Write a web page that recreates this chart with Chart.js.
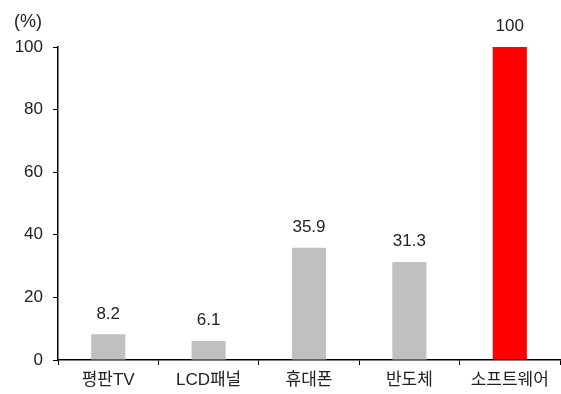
<!DOCTYPE html>
<html><head><meta charset="utf-8">
<script src="https://cdn.jsdelivr.net/npm/chart.js@4"></script>
<style>html,body{margin:0;padding:0;background:#fff}#wrap{width:561px;height:394px}</style>
</head><body><div id="wrap"><canvas id="c" width="561" height="394"></canvas></div>
<script>
const categories = ['평판TV', 'LCD패널', '휴대폰', '반도체', '소프트웨어'];
const values = [8.2, 6.1, 35.9, 31.3, 100];
const valueLabels = ['8.2', '6.1', '35.9', '31.3', '100'];
const barColors = ['#c0c0c0', '#c0c0c0', '#c0c0c0', '#c0c0c0', '#ff0000'];
const unitLabel = '(%)';

const FONT = '"Liberation Sans", Arial, "Noto Sans CJK KR", sans-serif';

const labelPlugin = {
  id: 'labels',
  afterDatasetsDraw(chart) {
    const ctx = chart.ctx;
    const meta = chart.getDatasetMeta(0);
    ctx.save();
    ctx.font = '17px ' + FONT;
    ctx.fillStyle = '#222';
    ctx.textAlign = 'center';
    ctx.textBaseline = 'bottom';
    meta.data.forEach((bar, i) => {
      ctx.fillText(valueLabels[i], bar.x, bar.y - 12);
    });
    ctx.font = '18px ' + FONT;
    ctx.textAlign = 'left';
    ctx.textBaseline = 'middle';
    ctx.fillText(unitLabel, 14, 22);
    ctx.restore();
  }
};

new Chart(document.getElementById('c'), {
  type: 'bar',
  data: {
    labels: categories,
    datasets: [{
      data: values,
      backgroundColor: barColors,
      borderWidth: 0,
      categoryPercentage: 1,
      barPercentage: 0.34
    }]
  },
  options: {
    responsive: false,
    animation: false,
    devicePixelRatio: 1,
    layout: { padding: { top: 47, right: 1, left: 0, bottom: 0 } },
    plugins: { legend: { display: false }, tooltip: { enabled: false } },
    scales: {
      x: {
        afterFit(s) { s.height = 34; },
        grid: { offset: true, drawOnChartArea: false, tickLength: 5, color: '#000', lineWidth: 1 },
        border: { color: '#000', width: 1.5 },
        ticks: { font: { size: 17, family: FONT }, color: '#222', padding: 5 }
      },
      y: {
        min: 0, max: 100,
        afterFit(s) { s.width = 58; },
        grid: { drawOnChartArea: false, tickLength: 5, color: '#000', lineWidth: 1 },
        border: { color: '#000', width: 1.5 },
        ticks: { stepSize: 20, font: { size: 17, family: FONT }, color: '#222', padding: 10 }
      }
    }
  },
  plugins: [labelPlugin]
});
</script>
</body></html>
